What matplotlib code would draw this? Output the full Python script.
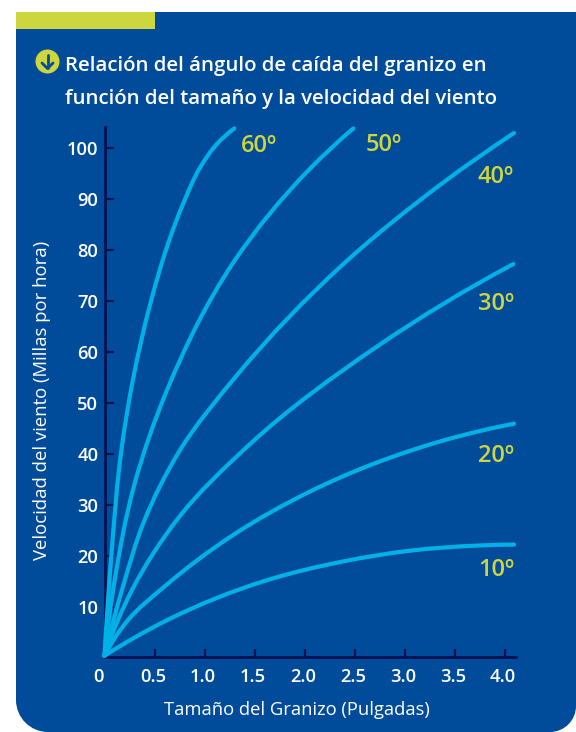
import matplotlib
matplotlib.use("Agg")
import matplotlib.pyplot as plt
import numpy as np
from matplotlib.path import Path
from matplotlib.patches import PathPatch, Circle, Rectangle
from matplotlib.transforms import ScaledTranslation

# ---- data ----
x10 = [0.0, 0.628, 1.622, 2.388, 3.055, 3.722, 4.095]
y10 = [0.5, 7.5, 15.3, 19.0, 21.1, 22.1, 22.3]
x20 = [0.0, 0.235, 0.595, 1.288, 2.055, 3.388, 4.095]
y20 = [0.5, 7.5, 14.0, 24.2, 32.7, 42.7, 46.0]
x30 = [0.0, 0.278, 0.73, 1.455, 2.722, 4.088]
y30 = [0.5, 13.5, 27.3, 42.0, 61.1, 77.3]
x40 = [0.0, 0.188, 0.388, 0.745, 1.328, 2.388, 3.388, 4.095]
y40 = [0.5, 14.3, 26.5, 40.5, 55.6, 77.3, 93.3, 103.0]
x50 = [0.0, 0.095, 0.295, 0.638, 1.288, 2.055, 2.488]
y50 = [0.5, 14.5, 33.8, 53.2, 77.6, 96.0, 103.9]
x60 = [0.0, 0.068, 0.17, 0.288, 0.455, 0.655, 0.788, 0.955, 1.122, 1.298]
y60 = [0.5, 20.0, 41.0, 55.0, 69.3, 82.4, 89.2, 96.2, 100.8, 103.9]
series_x = [x10, x20, x30, x40, x50, x60]
series_y = [y10, y20, y30, y40, y50, y60]
angle_labels = ["10º", "20º", "30º", "40º", "50º", "60º"]
x_ticks = [0, 0.5, 1.0, 1.5, 2.0, 2.5, 3.0, 3.5, 4.0]
x_ticklabels = ["0", "0.5", "1.0", "1.5", "2.0", "2.5", "3.0", "3.5", "4.0"]
y_ticks = [10, 20, 30, 40, 50, 60, 70, 80, 90, 100]
title_lines = ["Relación del ángulo de caída del granizo en",
               "función del tamaño y la velocidad del viento"]
x_title = "Tamaño del Granizo (Pulgadas)"
y_title = "Velocidad del viento (Millas por hora)"

# ---- styling ----
W, H, DPI = 576, 732, 100
BLUE = "#014C9A"; LIME = "#CDD63C"; CYAN = "#00B1E7"; NAVY = "#001250"
FONT = "Open Sans"
plt.rcParams["font.family"] = [FONT, "DejaVu Sans"]


def smooth_path(xs, ys, sx, sy):
    """Bezier path running through the read points (three-point tangents)."""
    p = np.column_stack([xs, ys]).astype(float)
    scale = np.array([sx, sy])
    t = np.r_[0, np.cumsum(np.hypot(*((np.diff(p, axis=0) * scale).T)))]
    h = np.diff(t)
    d = np.diff(p, axis=0) / h[:, None]
    m = np.zeros_like(p)
    m[1:-1] = (d[:-1] * h[1:, None] + d[1:] * h[:-1, None]) / (h[:-1] + h[1:])[:, None]
    m[0] = 2 * d[0] - m[1]
    m[-1] = 2 * d[-1] - m[-2]
    verts = [tuple(p[0])]
    codes = [Path.MOVETO]
    for i in range(len(p) - 1):
        verts += [tuple(p[i] + m[i] * h[i] / 3), tuple(p[i + 1] - m[i + 1] * h[i] / 3), tuple(p[i + 1])]
        codes += [Path.CURVE4] * 3
    return Path(verts, codes)


fig = plt.figure(figsize=(W / DPI, H / DPI), dpi=DPI, facecolor="white")

# background in pixel coordinates
bg = fig.add_axes([0, 0, 1, 1], zorder=0)
bg.set_xlim(0, W); bg.set_ylim(H, 0); bg.axis("off")
L, T, R, B = 16, 12, 576, 732
rl, rr = 32, 26
k = 0.5523
verts = [(L, T), (R, T), (R, B - rr),
         (R, B - rr + k * rr), (R - rr + k * rr, B), (R - rr, B),
         (L + rl, B),
         (L + rl - k * rl, B), (L, B - rl + k * rl), (L, B - rl),
         (L, T)]
codes = [Path.MOVETO, Path.LINETO, Path.LINETO,
         Path.CURVE4, Path.CURVE4, Path.CURVE4,
         Path.LINETO,
         Path.CURVE4, Path.CURVE4, Path.CURVE4,
         Path.CLOSEPOLY]
bg.add_patch(PathPatch(Path(verts, codes), facecolor=BLUE, edgecolor="none"))
bg.add_patch(Rectangle((16, 12), 139, 17, facecolor=LIME, edgecolor="none"))
bg.add_patch(Circle((47.5, 61.5), 12, facecolor=LIME, edgecolor="none"))
bg.plot([47.5, 47.5], [54.5, 68], color=BLUE, lw=2.0, solid_capstyle="round")
bg.plot([42, 47.5, 53], [63, 68.5, 63], color=BLUE, lw=2.0,
        solid_capstyle="round", solid_joinstyle="round")

# title and labels, placed by pixel
for line, yb in zip(title_lines, [71, 104]):
    bg.text(65, yb, line, color="white", fontsize=14.7, fontweight="semibold",
            ha="left", va="baseline")
bg.text(297, 715, x_title, color="white", fontsize=13.2, ha="center", va="baseline")
bg.text(42, 400, y_title, color="white", fontsize=13.3, rotation=90, ha="center", va="center")
label_px = [(478, 576), (478, 462), (478, 310), (477, 183), (366, 151), (241, 152)]
for lab, (px, py) in zip(angle_labels, label_px):
    bg.text(px, py, lab, color=LIME, fontsize=17, fontweight="semibold",
            ha="left", va="baseline")

# chart axes
ax_l, ax_r, ax_b, ax_t = 104.5, 516.0, 656.7, 127.0
ax = fig.add_axes([ax_l / W, 1 - ax_b / H, (ax_r - ax_l) / W, (ax_b - ax_t) / H], zorder=1)
ax.patch.set_alpha(0)
ax.set_xlim(0, (ax_r - ax_l) / 100)
ax.set_ylim((658.3 - ax_b) / 5.1, (658.3 - ax_t) / 5.1)
for s in ["top", "right"]:
    ax.spines[s].set_visible(False)
for s in ["left", "bottom"]:
    ax.spines[s].set_color(NAVY)
    ax.spines[s].set_linewidth(2.0)
    ax.spines[s].set_zorder(1)

for xs, ys in zip(series_x, series_y):
    ax.add_patch(PathPatch(smooth_path(xs, ys, 100, 5.1), fill=False, edgecolor=CYAN, lw=3.0,
                           capstyle="round", joinstyle="round", clip_on=False, zorder=3))

ax.set_xticks(x_ticks)
ax.set_xticklabels(x_ticklabels)
ax.set_yticks(y_ticks)
ax.tick_params(axis="x", direction="in", length=6, width=1.6, color=NAVY, pad=8,
               labelcolor="white", labelsize=13.2)
ax.tick_params(axis="y", direction="in", length=6.5, width=1.6, color=NAVY, pad=4.5,
               labelcolor="white", labelsize=13.2)
for lab in ax.get_xticklabels() + ax.get_yticklabels():
    lab.set_fontweight("semibold")
ax.xaxis.get_major_ticks()[0].tick1line.set_visible(False)
for i, lab in enumerate(ax.get_xticklabels()):
    dx = -5.5 if i == 0 else -1.5
    lab.set_transform(lab.get_transform() + ScaledTranslation(dx / DPI, 0, fig.dpi_scale_trans))

fig.savefig("out.png", dpi=DPI, facecolor="white")
